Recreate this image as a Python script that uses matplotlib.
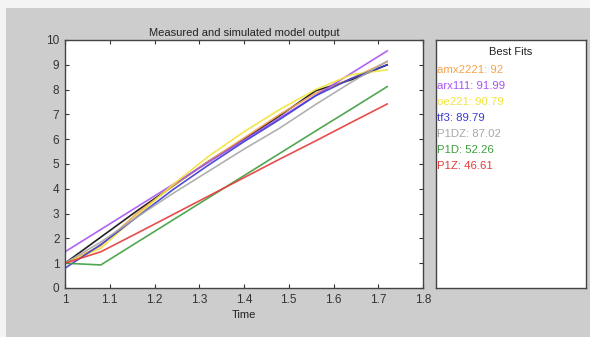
import matplotlib
matplotlib.use('Agg')
import matplotlib.pyplot as plt
from matplotlib.patches import Rectangle

plt.rcParams['font.family'] = ['Liberation Sans', 'DejaVu Sans']

# sample times
time = [1.0, 1.08, 1.16, 1.24, 1.32, 1.40, 1.48, 1.56, 1.64, 1.72]

# measured output and model outputs
measured = [1.0, 2.05, 3.1, 4.1, 5.1, 6.0, 6.95, 7.95, 8.4, 9.0]
amx2221 = [1.0, 1.7, 3.0, 4.1, 5.1, 6.05, 7.0, 7.85, 8.45, 9.12]
arx111 = [1.46, 2.36, 3.26, 4.16, 5.06, 5.96, 6.86, 7.76, 8.66, 9.56]
oe221 = [1.0, 1.6, 2.9, 4.15, 5.3, 6.3, 7.2, 8.0, 8.6, 8.8]
tf3 = [0.8, 1.75, 2.85, 3.95, 4.95, 5.9, 6.8, 7.75, 8.45, 9.0]
p1dz = [1.0, 1.85, 2.85, 3.8, 4.7, 5.6, 6.45, 7.4, 8.3, 9.15]
p1d = [1.0, 0.93, 1.83, 2.73, 3.63, 4.53, 5.43, 6.33, 7.22, 8.12]
p1z = [1.0, 1.46, 2.2, 2.95, 3.7, 4.45, 5.2, 5.93, 6.68, 7.42]

model_names = ['amx2221', 'arx111', 'oe221', 'tf3', 'P1DZ', 'P1D', 'P1Z']
model_fits = ['92', '91.99', '90.79', '89.79', '87.02', '52.26', '46.61']
model_data = [amx2221, arx111, oe221, tf3, p1dz, p1d, p1z]
model_colors = ['#f5a24a', '#a653f5', '#f2e33a', '#3a3ad0', '#a8a8a8', '#3e9e3e', '#e63a3a']

x_ticks = [1.0, 1.1, 1.2, 1.3, 1.4, 1.5, 1.6, 1.7, 1.8]
x_tick_labels = ['1', '1.1', '1.2', '1.3', '1.4', '1.5', '1.6', '1.7', '1.8']
y_ticks = [0, 1, 2, 3, 4, 5, 6, 7, 8, 9, 10]

fig = plt.figure(figsize=(5.9, 3.37), dpi=100)
fig.patch.set_facecolor('#f4f4f4')
# gray window background, drawn below the axes
fig.patches.append(Rectangle((6 / 590, 0), 1, 1 - 8 / 337, transform=fig.transFigure,
                             facecolor='#cdcdcd', edgecolor='none', zorder=-5))

ax = fig.add_axes([65 / 590, 1 - 288 / 337, 358 / 590, 248 / 337])
ax.plot(time, measured, color='#222222', linewidth=1.2)
for data, color in zip(model_data, model_colors):
    ax.plot(time, data, color=color, linewidth=1.2, alpha=0.9)

ax.set_xlim(1, 1.8)
ax.set_ylim(0, 10)
ax.set_xticks(x_ticks)
ax.set_xticklabels(x_tick_labels)
ax.set_yticks(y_ticks)
ax.tick_params(direction='in', top=True, right=True, length=3, width=0.8,
               labelsize=8.5, colors='#333333', pad=4)
for spine in ax.spines.values():
    spine.set_color('#444444')
    spine.set_linewidth(1.0)
ax.set_title('Measured and simulated model output', fontsize=8, color='#222222', pad=3)
ax.set_xlabel('Time', fontsize=8, color='#222222', labelpad=3)

# legend panel
lax = fig.add_axes([436 / 590, 1 - 288 / 337, 150 / 590, 248 / 337])
lax.set_xticks([])
lax.set_yticks([])
lax.set_xlim(0, 150)
lax.set_ylim(248, 0)
for spine in lax.spines.values():
    spine.set_color('#444444')
    spine.set_linewidth(1.0)
lax.text(75, 12, 'Best Fits', fontsize=8, color='#222222', ha='center', va='center')
for i, (name, fit, color) in enumerate(zip(model_names, model_fits, model_colors)):
    lax.text(1, 30 + i * 16, name + ': ' + fit, fontsize=8.2, color=color,
             ha='left', va='center')

fig.savefig('out.png', dpi=100, facecolor=fig.get_facecolor())
